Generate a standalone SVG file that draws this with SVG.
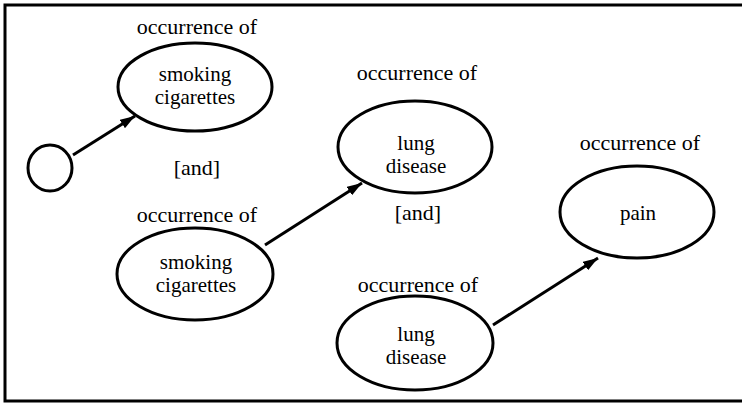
<svg xmlns="http://www.w3.org/2000/svg" width="742" height="406" viewBox="0 0 742 406">
<defs>
<style>
text{font-family:"Liberation Serif","Times New Roman",serif;font-size:21px;fill:#000;text-anchor:middle}
.big{font-size:22px}
.node ellipse{fill:none;stroke:#000;stroke-width:3}
.edges line{stroke:#000;stroke-width:3}
.frame{fill:none;stroke:#000;stroke-width:3}
</style>
<marker id="ah" viewBox="0 0 12 8" refX="12" refY="4" markerWidth="5" markerHeight="3.4" orient="auto" markerUnits="strokeWidth">
<path d="M0,0 L12,4 L0,8 z" fill="#000"/>
</marker>
</defs>
<rect width="742" height="406" fill="#fff"/>
<path class="frame" d="M742,5 H5 V401 H742"/>
<g id="start" class="node"><ellipse cx="50" cy="168" rx="22" ry="23"/></g>
<g id="smoking1" class="node">
<text class="big" x="197" y="34">occurrence of</text>
<ellipse cx="195" cy="87" rx="77" ry="44"/>
<text x="195" y="81">smoking</text>
<text x="195" y="104">cigarettes</text>
</g>
<g id="and1"><text class="big" x="197" y="175">[and]</text></g>
<g id="smoking2" class="node">
<text class="big" x="197" y="222">occurrence of</text>
<ellipse cx="195" cy="274" rx="78" ry="46"/>
<text x="196" y="269">smoking</text>
<text x="196" y="292">cigarettes</text>
</g>
<g id="lung1" class="node">
<text class="big" x="417" y="80">occurrence of</text>
<ellipse cx="415" cy="147" rx="77" ry="46"/>
<text x="416" y="150">lung</text>
<text x="416" y="173">disease</text>
</g>
<g id="and2"><text class="big" x="418" y="220">[and]</text></g>
<g id="lung2" class="node">
<text class="big" x="418" y="292">occurrence of</text>
<ellipse cx="415" cy="343" rx="78" ry="47"/>
<text x="416" y="341">lung</text>
<text x="416" y="364">disease</text>
</g>
<g id="pain" class="node">
<text class="big" x="640" y="150">occurrence of</text>
<ellipse cx="637" cy="212" rx="77" ry="46"/>
<text x="638" y="220">pain</text>
</g>
<g class="edges">
<line x1="73" y1="155" x2="135" y2="116" marker-end="url(#ah)"/>
<line x1="265" y1="245" x2="362" y2="183" marker-end="url(#ah)"/>
<line x1="493" y1="325" x2="598" y2="258" marker-end="url(#ah)"/>
</g>
</svg>
